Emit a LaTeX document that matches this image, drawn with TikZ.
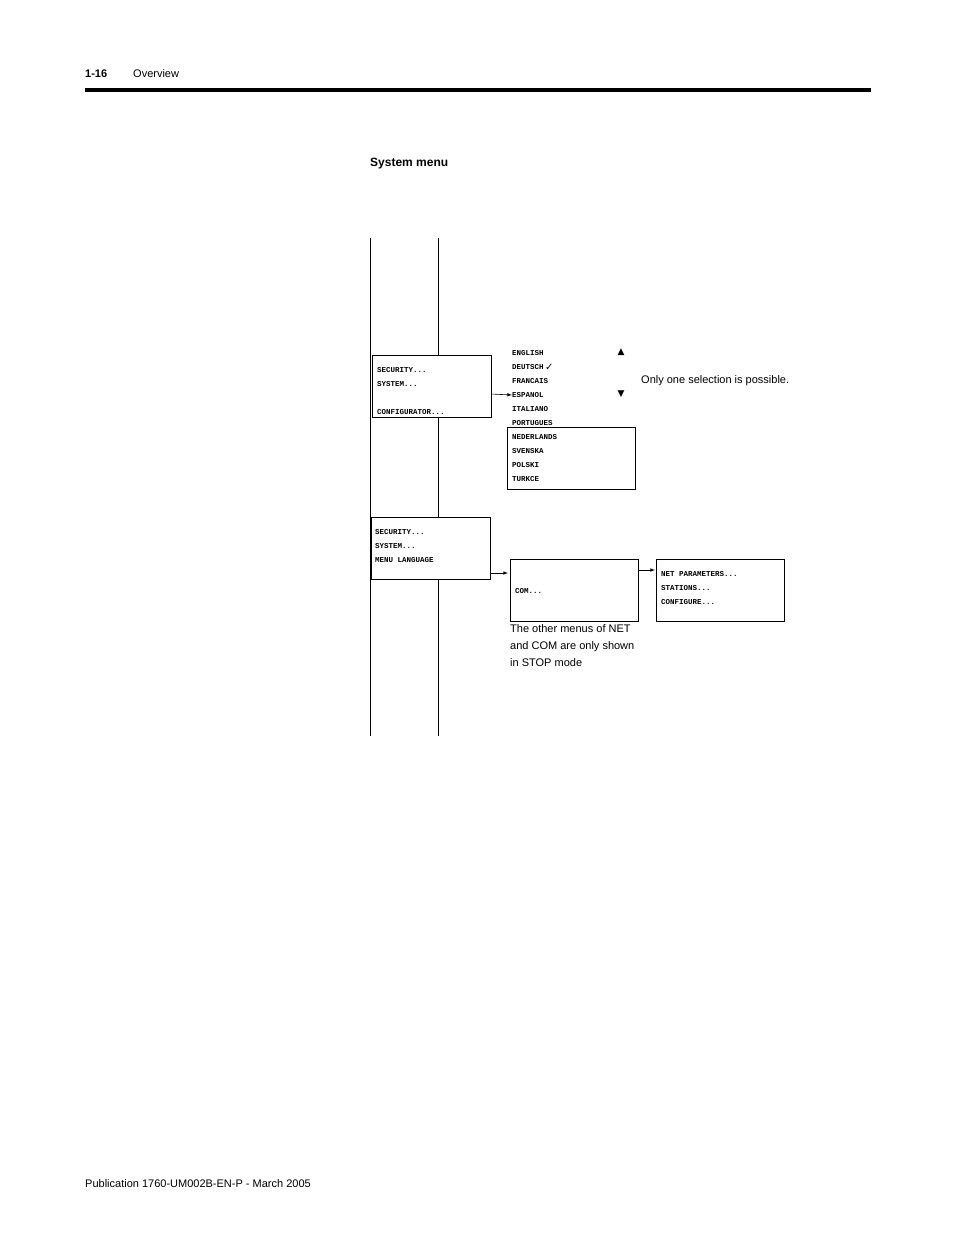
\documentclass[tikz,border=0pt]{standalone}
\usepackage{fontspec}
\setmainfont{Liberation Sans}
\setmonofont{Liberation Mono}
\newfontfamily\symfont{DejaVu Sans}
\tikzset{
  menubox/.style={draw, line width=0.6pt},
  lcd/.style={anchor=west, inner sep=0pt, font=\ttfamily\bfseries\fontsize{7.5}{8}\selectfont},
  note/.style={anchor=west, inner sep=0pt, font=\fontsize{11}{13}\selectfont},
  feed/.style={->, >=latex, line width=0.6pt}
}
\begin{document}
\begin{tikzpicture}[x=1pt, y=-1pt]
\useasboundingbox (0,0) rectangle (954,1235);
% header and footer
\node (pagenum) [note, font=\bfseries\fontsize{11}{13}\selectfont] at (85,74) {1-16};
\node (chapter) [note] at (133,74) {Overview};
\fill (85,88) rectangle (871,92);
\node (title) [note, font=\bfseries\fontsize{12}{14}\selectfont] at (370,164) {System menu};
\node (footer) [note] at (85,1184) {Publication 1760-UM002B-EN-P - March 2005};
% vertical levels
\draw[line width=0.6pt] (370,238) -- (370,736);
\draw[line width=0.6pt] (438,238) -- (438,355) (438,417) -- (438,517) (438,579) -- (438,736);
% first menu
\draw[menubox] (372,355) rectangle (491,417);
\coordinate (menuA) at (491,394);
\node[lcd] at (377,370) {SECURITY...};
\node[lcd] at (377,384) {SYSTEM...};
\node[lcd] at (377,412) {CONFIGURATOR...};
% language list
\foreach \lang [count=\i from 0] in {ENGLISH,DEUTSCH,FRANCAIS,ESPANOL,ITALIANO,PORTUGUES,NEDERLANDS,SVENSKA,POLSKI,TURKCE}
  \node[lcd] (lang\i) at (512,353+14*\i) {\lang};
\node[anchor=west, inner sep=1pt, font=\symfont\fontsize{10}{10}\selectfont] at (lang1.east) {✓};
\draw[menubox] (507,427) rectangle (635,489);
\draw[feed] (menuA) -- (lang3.west);
\node[font=\symfont\fontsize{9}{9}\selectfont] (up) at (621,352) {▲};
\node[font=\symfont\fontsize{9}{9}\selectfont] (down) at (621,394) {▼};
\node[note] (hint) at (641,381) {Only one selection is possible.};
% second menu
\draw[menubox] (371,517) rectangle (490,579);
\coordinate (menuB) at (490,573);
\node[lcd] at (375,532) {SECURITY...};
\node[lcd] at (375,546) {SYSTEM...};
\node[lcd] at (375,560) {MENU LANGUAGE};
% COM menu
\draw[menubox] (510,559) rectangle (638,621);
\coordinate (comIn) at (508,573);
\coordinate (comOut) at (638,570);
\node[lcd] at (515,591) {COM...};
\draw[feed] (menuB) -- (comIn);
% NET menu
\draw[menubox] (656,559) rectangle (784,621);
\coordinate (netIn) at (655,570);
\node[lcd] at (661,574) {NET PARAMETERS...};
\node[lcd] at (661,588) {STATIONS...};
\node[lcd] at (661,602) {CONFIGURE...};
\draw[feed] (comOut) -- (netIn);
\node[note, anchor=north west, align=left, font=\fontsize{11}{17}\selectfont] (remark) at (510,624)
  {The other menus of NET\\and COM are only shown\\in STOP mode};
\end{tikzpicture}
\end{document}
